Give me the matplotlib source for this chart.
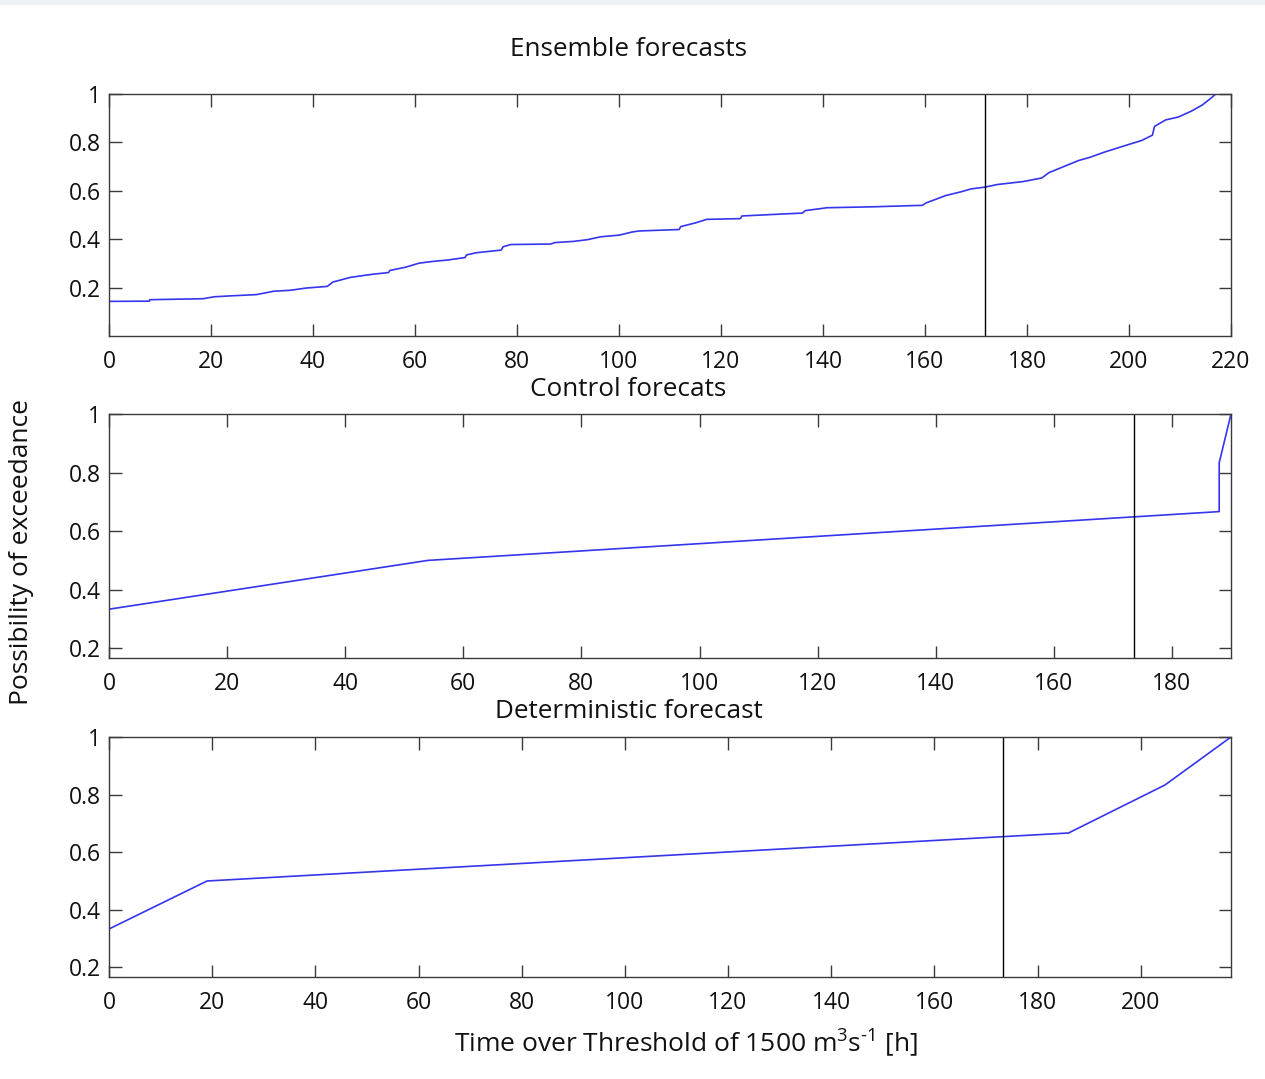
import matplotlib
matplotlib.use("Agg")
import matplotlib.pyplot as plt
from matplotlib.patches import Rectangle

plt.rcParams['font.family'] = ['Open Sans', 'DejaVu Sans']
plt.rcParams['mathtext.fontset'] = 'custom'
plt.rcParams['mathtext.rm'] = 'Open Sans'
plt.rcParams['mathtext.it'] = 'Open Sans'
plt.rcParams['mathtext.default'] = 'regular'

# ---------------- data ----------------
ens_x = [0, 0, 7.9, 8.0, 18.4, 20.6, 24.0, 28.9, 32.3, 35.6, 38.6, 42.8, 43.9, 47.3, 49.9,
         52.0, 54.8, 55.1, 58.1, 60.8, 63.4, 66.4, 69.8, 70.1, 72.0, 76.9, 77.3, 78.8,
         86.6, 87.4, 91.1, 93.8, 96.4, 100.1, 102.4, 103.9, 111.8, 112.1, 115.1, 117.2,
         123.8, 124.1, 130.0, 136.0, 136.5, 140.8, 150.0, 159.5, 160.2, 161.5, 164.0,
         166.9, 169.1, 171.7, 174.2, 179.2, 182.9, 184.3, 187.2, 190.1, 192.3, 195.2,
         198.8, 202.5, 204.6, 205.0, 207.2, 209.7, 212.3, 214.4, 216.2, 217.0, 220.0]
ens_y = [0.0, 0.143, 0.144, 0.150, 0.154, 0.162, 0.166, 0.171, 0.185, 0.189, 0.198, 0.205,
         0.223, 0.242, 0.250, 0.256, 0.262, 0.271, 0.284, 0.301, 0.308, 0.314, 0.324,
         0.335, 0.344, 0.355, 0.369, 0.378, 0.380, 0.386, 0.391, 0.398, 0.410, 0.417,
         0.429, 0.434, 0.440, 0.452, 0.468, 0.482, 0.485, 0.496, 0.502, 0.508, 0.518,
         0.530, 0.534, 0.540, 0.550, 0.560, 0.580, 0.595, 0.608, 0.615, 0.626, 0.638,
         0.653, 0.675, 0.700, 0.725, 0.738, 0.760, 0.784, 0.808, 0.830, 0.866, 0.893,
         0.905, 0.930, 0.955, 0.985, 1.0, 1.0]
ens_obs = 171.8

ctl_x = [0, 0, 54, 188, 188, 190]
ctl_y = [1/6, 1/3, 1/2, 2/3, 5/6, 1.0]
ctl_obs = 173.6

det_x = [0, 0, 19, 186, 204.7, 217.5]
det_y = [1/6, 1/3, 1/2, 2/3, 5/6, 1.0]
det_obs = 173.3

titles = ["Ensemble forecasts", "Control forecats", "Deterministic forecast"]
ylabel = "Possibility of exceedance"
xlabel = r"Time over Threshold of 1500 m$^{3}$s$^{\text{-}1}$ [h]"

ens_xticks = list(range(0, 221, 20))
ctl_xticks = list(range(0, 181, 20))
det_xticks = list(range(0, 201, 20))
yticks = [0.2, 0.4, 0.6, 0.8, 1.0]
yticklabels = ["0.2", "0.4", "0.6", "0.8", "1"]

# ---------------- figure ----------------
W, H = 1265, 1079
fig = plt.figure(figsize=(W / 100, H / 100), dpi=100)
fig.patch.set_facecolor("white")
fig.add_artist(Rectangle((0, 1 - 5 / H), 1, 5 / H, transform=fig.transFigure,
                         facecolor="#eef2f5", edgecolor="none"))

def px_axes(top, bottom, left=109, right=1231):
    return fig.add_axes([left / W, 1 - bottom / H, (right - left) / W, (bottom - top) / H])

blue = "#3535ee"
spine_c = "#3a3a3a"
txt_c = "#111111"

def style(ax, xticks, xlim, ylim):
    ax.set_xlim(*xlim)
    ax.set_ylim(*ylim)
    ax.set_xticks(xticks)
    ax.set_xticklabels([str(t) for t in xticks])
    ax.set_yticks(yticks)
    ax.set_yticklabels(yticklabels)
    ax.tick_params(direction="in", length=9, width=1.0, color=spine_c,
                   top=True, right=True, labelsize=16.5, labelcolor=txt_c)
    ax.tick_params(axis="x", pad=10)
    ax.tick_params(axis="y", pad=6)
    for s in ax.spines.values():
        s.set_color(spine_c)
        s.set_linewidth(1.0)

ax1 = px_axes(94, 336)
ax1.plot(ens_x, ens_y, color=blue, lw=1.2)
ax1.axvline(ens_obs, color="black", lw=1.0)
style(ax1, ens_xticks, (0, 220), (0, 1))

ax2 = px_axes(414, 658)
ax2.plot(ctl_x, ctl_y, color=blue, lw=1.2)
ax2.axvline(ctl_obs, color="black", lw=1.0)
style(ax2, ctl_xticks, (0, 190), (1/6, 1))

ax3 = px_axes(737, 977)
ax3.plot(det_x, det_y, color=blue, lw=1.2)
ax3.axvline(det_obs, color="black", lw=1.0)
style(ax3, det_xticks, (0, 217.5), (1/6, 1))

fs_t = 18.8
fig.text(629 / W, 1 - 50 / H, titles[0], ha="center", va="center", fontsize=fs_t, color=txt_c)
fig.text(628 / W, 1 - 389 / H, titles[1], ha="center", va="center", fontsize=fs_t, color=txt_c)
fig.text(629 / W, 1 - 712 / H, titles[2], ha="center", va="center", fontsize=fs_t, color=txt_c)
fig.text(22 / W, 1 - 552 / H, ylabel, ha="center", va="center", rotation=90, fontsize=19, color=txt_c)
fig.text(686 / W, 1 - 1043 / H, xlabel, ha="center", va="center", fontsize=19, color=txt_c)

fig.savefig("out.png", dpi=100)
